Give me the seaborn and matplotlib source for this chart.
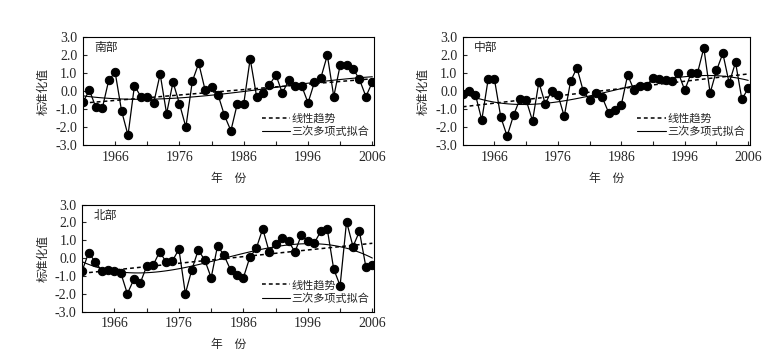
import numpy as np
import pandas as pd
import matplotlib
matplotlib.use('Agg')
import matplotlib.pyplot as plt
import seaborn as sns

years = list(range(1961, 2007))

south = [-0.6, 0.05, -0.9, -0.95, 0.6, 1.05, -1.1, -2.45, 0.3, -0.3,
         -0.3, -0.65, 0.95, -1.25, 0.5, -0.7, -2.0, 0.55, 1.55, 0.05,
         0.25, -0.2, -1.35, -2.2, -0.7, -0.7, 1.8, -0.3, -0.1, 0.35,
         0.9, -0.1, 0.6, 0.3, 0.3, -0.65, 0.5, 0.75, 2.0, -0.3,
         1.45, 1.45, 1.25, 0.65, -0.3, 0.5]

middle = [-0.15, 0.0, -0.2, -1.6, 0.65, 0.65, -1.45, -2.5, -1.35, -0.45,
          -0.5, -1.65, 0.5, -0.7, 0.0, -0.2, -1.4, 0.55, 1.3, 0.0,
          -0.5, -0.1, -0.35, -1.2, -1.05, -0.75, 0.9, 0.05, 0.3, 0.3,
          0.75, 0.65, 0.6, 0.55, 1.0, 0.05, 1.0, 1.0, 2.4, -0.1,
          1.15, 2.1, 0.45, 1.6, -0.45, 0.15]

north = [-0.7, 0.3, -0.2, -0.7, -0.65, -0.7, -0.85, -2.0, -1.2, -1.4,
         -0.45, -0.4, 0.35, -0.2, -0.15, 0.5, -2.0, -0.65, 0.45, -0.1,
         -1.1, 0.7, 0.15, -0.65, -0.95, -1.1, 0.05, 0.55, 1.65, 0.35,
         0.8, 1.15, 0.95, 0.35, 1.3, 0.95, 0.85, 1.5, 1.65, -0.6,
         -1.55, 2.05, 0.65, 1.5, -0.5, -0.4]

regions = ['南部', '中部', '北部']
year_ticks = [1966, 1976, 1986, 1996, 2006]
y_ticks = [-3.0, -2.0, -1.0, 0.0, 1.0, 2.0, 3.0]

sns.set_style('ticks')
plt.rcParams['font.family'] = ['Liberation Serif', 'Noto Sans CJK SC']
plt.rcParams['axes.linewidth'] = 0.8
cjk = ['Noto Sans CJK SC', 'DejaVu Sans']

fig = plt.figure(figsize=(7.83, 3.61), dpi=100)
boxes = [[0.106, 0.598, 0.372, 0.299],
         [0.591, 0.598, 0.367, 0.299],
         [0.105, 0.137, 0.373, 0.296]]

for box, name, vals in zip(boxes, regions, [south, middle, north]):
    ax = fig.add_axes(box)
    df = pd.DataFrame({'year': years, 'val': vals})
    sns.lineplot(data=df, x='year', y='val', ax=ax, color='black',
                 linewidth=0.9, marker='o', markersize=6,
                 markeredgecolor='black', zorder=3)
    sns.regplot(data=df, x='year', y='val', ax=ax, order=1, scatter=False,
                ci=None, color='black',
                line_kws=dict(linestyle=(0, (2.5, 2)), linewidth=1.1),
                label='线性趋势')
    sns.regplot(data=df, x='year', y='val', ax=ax, order=3, scatter=False,
                ci=None, color='black', line_kws=dict(linewidth=0.8),
                label='三次多项式拟合')
    ax.set_xlim(1961, 2006.3)
    ax.set_ylim(-3, 3)
    ax.set_xticks(year_ticks)
    ax.set_xticks([1971, 1981, 1991, 2001], minor=True)
    ax.set_yticks(y_ticks)
    ax.set_yticklabels([f'{v:.1f}' for v in y_ticks])
    ax.tick_params(direction='in', length=3, width=0.8, labelsize=10, pad=4)
    ax.tick_params(which='minor', direction='in', length=3, width=0.8)
    for s in ax.spines.values():
        s.set_visible(True)
        s.set_color('black')
    ax.set_xlabel('年　份', family=cjk, fontsize=8.5, labelpad=6)
    ax.set_ylabel('标准化值', family=cjk, fontsize=8.5, labelpad=4)
    ax.text(0.04, 0.9, name, transform=ax.transAxes, family=cjk,
            fontsize=8.5, va='center', ha='left')
    leg = ax.legend(loc='lower right', bbox_to_anchor=(1.01, 0.0),
                    frameon=False, prop=dict(family=cjk, size=8),
                    handlelength=2.6, handletextpad=0.1, labelspacing=0.25,
                    borderaxespad=0.3)
    leg.set_zorder(5)

fig.savefig('out.png', dpi=100)
